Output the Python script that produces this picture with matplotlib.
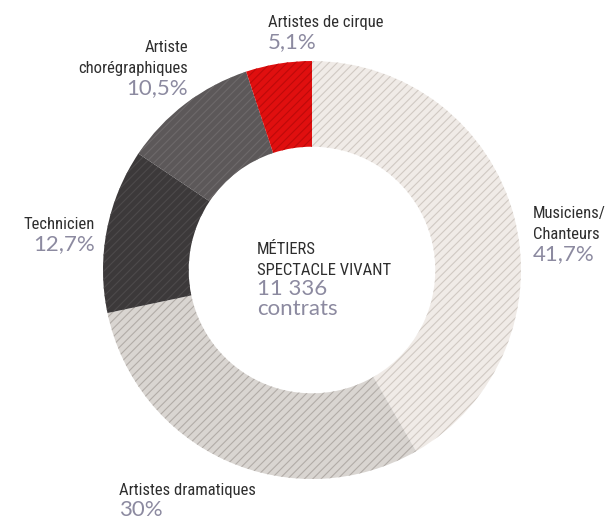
import matplotlib
matplotlib.use("Agg")
import matplotlib.pyplot as plt

labels = ["Musiciens/\nChanteurs", "Artistes dramatiques", "Technicien",
          "Artiste\nchorégraphiques", "Artistes de cirque"]
shares = [41.7, 30.0, 12.7, 10.5, 5.1]
pct_text = ["41,7%", "30%", "12,7%", "10,5%", "5,1%"]
fills = ["#f0ebe7", "#d9d5d1", "#3c393a", "#5c5859", "#e00f0f"]
hatch_cols = ["#d0c9c3", "#b2aca7", "#4d4a4b", "#6d696a", "#bd0a0a"]
total_contracts = "11 336"

W, H = 607, 521
plt.rcParams["hatch.linewidth"] = 0.8
label_font = ["Roboto Condensed", "Liberation Sans Narrow", "Roboto", "DejaVu Sans"]
pct_font = ["Lato", "DejaVu Sans"]
label_col = "#2e2e2e"
pct_col = "#8c8aa0"

fig = plt.figure(figsize=(W / 100, H / 100), dpi=100)
cx, cy, r = 312, 270, 209
ax = fig.add_axes([(cx - r) / W, (H - cy - r) / H, 2 * r / W, 2 * r / H])
wedges, _ = ax.pie(shares, startangle=90, counterclock=False, radius=1,
                   colors=fills, wedgeprops=dict(width=0.41, linewidth=0))
for w, hc in zip(wedges, hatch_cols):
    w.set_hatch("////")
    w.set_edgecolor(hc)
    w.set_linewidth(0)
ax.set_xlim(-1, 1)
ax.set_ylim(-1, 1)
ax.set_aspect("equal")
ax.axis("off")


def px(x, y):
    return x / W, 1 - y / H


def put_label(x, y, name, pct, ha):
    lines = name.split("\n")
    for i, ln in enumerate(lines):
        fig.text(*px(x, y + i * 21), ln, ha=ha, va="baseline", fontsize=12,
                 family=label_font, color=label_col)
    fig.text(*px(x, y + (len(lines) - 1) * 21 + 21), pct, ha=ha, va="baseline",
             fontsize=16, family=pct_font, color=pct_col)


put_label(533, 218, labels[0], pct_text[0], "left")
put_label(119, 495, labels[1], pct_text[1], "left")
put_label(95, 229, labels[2], pct_text[2], "right")
put_label(188, 52, labels[3], pct_text[3], "right")
put_label(268, 27, labels[4], pct_text[4], "left")

fig.text(*px(257, 254), "MÉTIERS", ha="left", va="baseline", fontsize=12,
         family=label_font, color=label_col)
fig.text(*px(257, 275), "SPECTACLE VIVANT", ha="left", va="baseline", fontsize=12,
         family=label_font, color=label_col)
fig.text(*px(257, 295), total_contracts, ha="left", va="baseline", fontsize=16,
         family=pct_font, color=pct_col)
fig.text(*px(257, 315), "contrats", ha="left", va="baseline", fontsize=16,
         family=pct_font, color=pct_col)

fig.savefig("out.png", dpi=100)
